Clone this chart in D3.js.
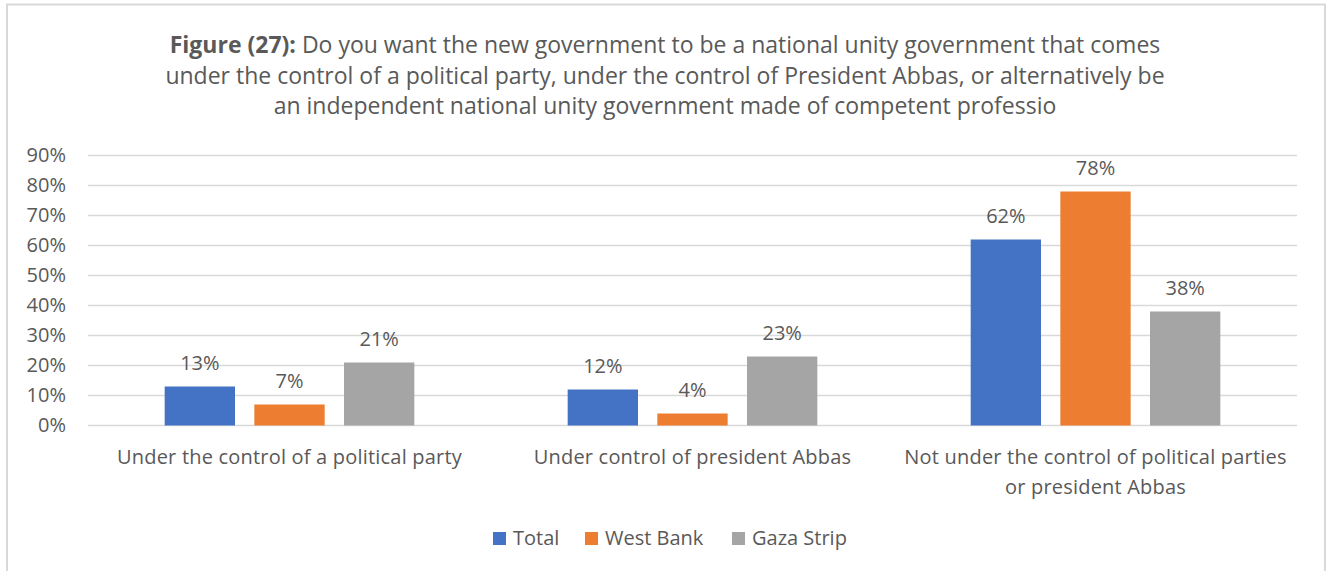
<!DOCTYPE html>
<html>
<head>
<meta charset="utf-8">
<script src="https://cdn.jsdelivr.net/npm/d3@7"></script>
<style>
  html, body { margin: 0; padding: 0; background: #ffffff; }
  svg { display: block; }
  text { font-family: "Open Sans", "Noto Sans", sans-serif; fill: #595959; }
</style>
</head>
<body>
<svg id="chart" width="1330" height="571"></svg>
<script>
// Survey results, in percent
const categories = [
  ["Under the control of a political party"],
  ["Under control of president Abbas"],
  ["Not under the control of political parties", "or president Abbas"]
];
const seriesNames = ["Total", "West Bank", "Gaza Strip"];
const total = [13, 12, 62];
const westBank = [7, 4, 78];
const gazaStrip = [21, 23, 38];
const yTicks = [0, 10, 20, 30, 40, 50, 60, 70, 80, 90];
const titleLines = [
  { bold: "Figure (27):", rest: " Do you want the new government to be a national unity government that comes" },
  { bold: "", rest: "under the control of a political party, under the control of President Abbas, or alternatively be" },
  { bold: "", rest: "an independent national unity government made of competent professio" }
];

const colors = ["#4472c4", "#ed7d31", "#a5a5a5"];
const seriesValues = [total, westBank, gazaStrip];

const svg = d3.select("#chart");
const W = 1330, H = 571;
const labelSize = "20px";

// chart frame
svg.append("path")
  .attr("d", `M7,${H} V4.5 H1325 V${H}`)
  .attr("fill", "none")
  .attr("stroke", "#d9d9d9")
  .attr("stroke-width", 2);

// title
const title = svg.append("g");
titleLines.forEach((ln, i) => {
  const t = title.append("text")
    .attr("x", 665)
    .attr("y", 53 + i * 30.5)
    .attr("text-anchor", "middle")
    .style("font-size", "23px");
  if (ln.bold) t.append("tspan").style("font-weight", "bold").text(ln.bold);
  t.append("tspan").text(ln.rest);
});

const plot = { left: 88, right: 1297, top: 155.5, bottom: 425.5 };

const x0 = d3.scaleBand()
  .domain(d3.range(categories.length))
  .range([plot.left, plot.right]);

const y = d3.scaleLinear()
  .domain([0, 90])
  .range([plot.bottom, plot.top]);

// gridlines
svg.append("g")
  .selectAll("line")
  .data(yTicks)
  .join("line")
  .attr("x1", plot.left)
  .attr("x2", plot.right)
  .attr("y1", d => y(d))
  .attr("y2", d => y(d))
  .attr("stroke", "#d9d9d9")
  .attr("stroke-width", 1.3);

// y axis labels
const yAxis = d3.axisLeft(y)
  .tickValues(yTicks)
  .tickFormat(d => d + "%")
  .tickSize(0)
  .tickPadding(0);
const yg = svg.append("g")
  .attr("transform", `translate(66,0)`)
  .call(yAxis);
yg.select(".domain").remove();
yg.selectAll("text")
  .style("font-size", labelSize)
  .style("font-family", "\"Open Sans\", sans-serif")
  .attr("fill", "#595959");

// bars: width and gap within each category band
const band = x0.bandwidth();
const barW = band * 0.1745;
const gap = band * 0.048;
const groupW = barW * 3 + gap * 2;

const rows = [];
categories.forEach((c, ci) => {
  seriesValues.forEach((vals, si) => {
    rows.push({ ci, si, v: vals[ci] });
  });
});

const barX = d => x0(d.ci) + (band - groupW) / 2 + d.si * (barW + gap);

svg.append("g")
  .selectAll("rect")
  .data(rows)
  .join("rect")
  .attr("x", barX)
  .attr("width", barW)
  .attr("y", d => y(d.v))
  .attr("height", d => y(0) - y(d.v))
  .attr("fill", d => colors[d.si]);

// value labels
svg.append("g")
  .selectAll("text")
  .data(rows)
  .join("text")
  .attr("x", d => barX(d) + barW / 2)
  .attr("y", d => y(d.v) - 17)
  .attr("text-anchor", "middle")
  .style("font-size", labelSize)
  .text(d => d.v + "%");

// category labels
const xg = svg.append("g");
categories.forEach((lines, ci) => {
  lines.forEach((ln, li) => {
    xg.append("text")
      .attr("x", x0(ci) + band / 2)
      .attr("y", 464 + li * 30)
      .attr("text-anchor", "middle")
      .style("font-size", labelSize)
      .style("letter-spacing", "0.2px")
      .text(ln);
  });
});

// legend
const legend = svg.append("g");
const legX = [493, 585, 732];
seriesNames.forEach((name, i) => {
  legend.append("rect")
    .attr("x", legX[i])
    .attr("y", 532)
    .attr("width", 13)
    .attr("height", 13)
    .attr("fill", colors[i]);
  legend.append("text")
    .attr("x", legX[i] + 20)
    .attr("y", 545)
    .style("font-size", labelSize)
    .text(name);
});
</script>
</body>
</html>
